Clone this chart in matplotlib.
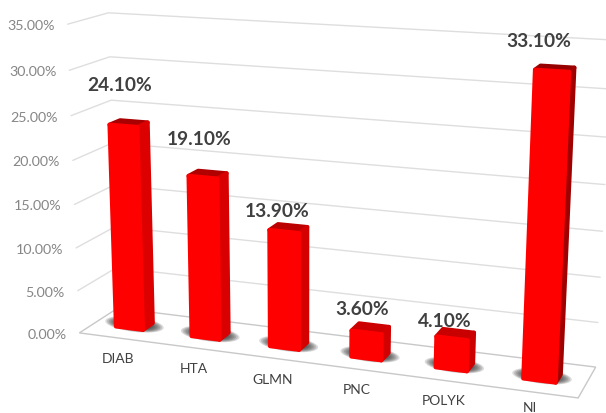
import numpy as np
import matplotlib
matplotlib.use("Agg")
import matplotlib.pyplot as plt
from matplotlib.patches import Polygon, Ellipse

# ---- data ----
categories = ["DIAB", "HTA", "GLMN", "PNC", "POLYK", "NI"]
values = [24.1, 19.1, 13.9, 3.6, 4.1, 33.1]
value_labels = ["24.10%", "19.10%", "13.90%", "3.60%", "4.10%", "33.10%"]
ticks = [0, 5, 10, 15, 20, 25, 30, 35]
tick_labels = ["0.00%", "5.00%", "10.00%", "15.00%", "20.00%", "25.00%", "30.00%", "35.00%"]

# ---- styles ----
W, H = 606, 414
FONT = ["Lato", "DejaVu Sans"]
bar_width, d0, d1, u_shift = 0.36, 0.31, 0.58, 0.01
bevel_top, bevel_bottom = 0.45, 0.2
side_cols = ["#dc0000", "#d80000", "#d40000", "#d20000", "#cc0000", "#a00000"]
top_cols = ["#a80000", "#b00000", "#bc0000", "#cc0000", "#c80000", "#960000"]
label_off = [(-9, -35), (-8, -32), (-11, -14), (-8, -16), (-11, -10), (-16, -24)]
cat_off = [(-11, 28), (-12, 28), (-12, 29), (-10, 29), (-7, 29), (-9, 25)]

# ---- perspective camera fitted from the plot-box corners (category, depth, value) -> pixel ----
n = len(categories)
box = [((0, 0, 0), (81, 334)), ((0, 1, 0), (116, 309)), ((n, 1, 0), (596, 368)),
       ((n, 0, 0), (578, 399)), ((0, 0, 35), (66, 25)), ((0, 1, 35), (110, 14)),
       ((n, 1, 35), (612, 41))]
A = []
for (u, d, v), (px, py) in box:
    A.append([u, d, v, 1, 0, 0, 0, 0, -px * u, -px * d, -px * v, -px])
    A.append([0, 0, 0, 0, u, d, v, 1, -py * u, -py * d, -py * v, -py])
P = np.linalg.svd(np.array(A, float))[2][-1].reshape(3, 4)


def pr(u, d, v):
    q = P @ np.array([u, d, v, 1.0])
    return q[0] / q[2], q[1] / q[2]


fig = plt.figure(figsize=(W / 100, H / 100), dpi=100)
ax = fig.add_axes([0, 0, 1, 1])
ax.set_xlim(0, W)
ax.set_ylim(H, 0)
ax.axis("off")

# floor
floor = [pr(0, 0, 0), pr(n, 0, 0), pr(n, 1, 0), pr(0, 1, 0)]
ax.add_patch(Polygon(floor, closed=True, fc="white", ec="#c8c8c8", lw=1.0, zorder=1))

# walls' gridlines and value ticks
for t, lab in zip(ticks, tick_labels):
    if t > 0:
        pts = np.array([pr(0, 0, t), pr(0, 1, t), pr(n, 1, t)])
        ax.plot(pts[:, 0], pts[:, 1], color="#dedede", lw=1.0, zorder=2, solid_capstyle="round")
    x0, y0 = pr(0, 0, t)
    ax.text(x0 - 13, y0 + 1, lab, ha="right", va="center", fontsize=10.3, color="#868686", family=FONT)

# bars
for i, (val, lab, cat) in enumerate(zip(values, value_labels, categories)):
    c = i + 0.5 + u_shift
    u0, u1 = c - bar_width / 2, c + bar_width / 2
    # soft shadow on the floor, behind the foot of the bar
    lx, _ = pr(u0, d0, 0)
    rx, _ = pr(u1, d1, 0)
    cx, cy = pr(c, (d0 + d1) / 2, 0)
    for k in range(10):
        f = 1.0 - k * 0.06
        ax.add_patch(Ellipse((cx, cy - 2), (rx - lx) * (1.6 * f), 15 * f, angle=7,
                             fc="#202020", ec="none", alpha=0.16, zorder=3))
    vt, vb = val - bevel_top, bevel_bottom
    front = [pr(u0, d0, vb), pr(u1, d0, vb), pr(u1, d0, vt), pr(u0, d0, vt)]
    side = [pr(u1, d0, vb), pr(u1, d1, vb), pr(u1, d1, vt), pr(u1, d0, vt)]
    top = [pr(u0, d0, vt), pr(u1, d0, vt), pr(u1, d1, vt), pr(u0, d1, vt)]
    ax.add_patch(Polygon(top, closed=True, fc=top_cols[i], ec=top_cols[i], lw=3,
                         joinstyle="round", zorder=4))
    ax.add_patch(Polygon(side, closed=True, fc=side_cols[i], ec=side_cols[i], lw=3,
                         joinstyle="round", zorder=5))
    ax.add_patch(Polygon(front, closed=True, fc="#ff0000", ec="#ff0000", lw=3,
                         joinstyle="round", zorder=6))
    tx, ty = pr(c, (d0 + d1) / 2, val)
    ax.text(tx + label_off[i][0], ty + label_off[i][1], lab, ha="center", va="center",
            fontsize=13.8, fontweight="bold", color="#404040", family=FONT, zorder=8)
    bx, by = pr(c, d0, 0)
    ax.text(bx + cat_off[i][0], by + cat_off[i][1], cat, ha="center", va="center",
            fontsize=10, color="#404040", family=FONT, zorder=8)

fig.savefig("out.png", dpi=100, facecolor="white")
